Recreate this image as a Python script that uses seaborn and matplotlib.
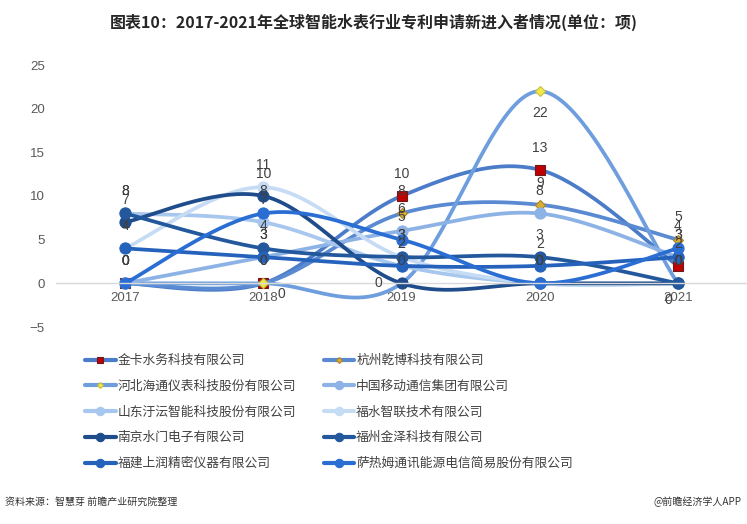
import numpy as np
import pandas as pd
import seaborn as sns
import matplotlib.pyplot as plt
from matplotlib.lines import Line2D

# 数据（单位：项）
years = ["2017", "2018", "2019", "2020", "2021"]
companies = [
    "金卡水务科技有限公司", "杭州乾博科技有限公司",
    "河北海通仪表科技股份有限公司", "中国移动通信集团有限公司",
    "山东汙沄智能科技股份有限公司", "福水智联技术有限公司",
    "南京水门电子有限公司", "福州金泽科技有限公司",
    "福建上润精密仪器有限公司", "萨热姆通讯能源电信简易股份有限公司",
]
jinka = [0, 0, 10, 13, 2]
qianbo = [0, 0, 8, 9, 5]
haitong = [0, 0, 0, 22, 0]
yidong = [0, 3, 6, 8, 3]
shandong = [8, 7, 2, 0, 0]
fushui = [4, 11, 3, 0, 0]
shuimen = [7, 10, 0, 0, 0]
jinze = [8, 4, 3, 3, 0]
shangrun = [4, 3, 2, 2, 3]
sagem = [0, 8, 5, 0, 4]
values = [jinka, qianbo, haitong, yidong, shandong, fushui, shuimen, jinze, shangrun, sagem]

colors = ["#4A7CC9", "#5A8AD2", "#6E9EDD", "#8CB2E6", "#A8C7EE",
          "#C6DBF4", "#1F4C8A", "#24589C", "#2562BC", "#2A6ED4"]
markers = ["s", "D", "D", "o", "o", "o", "o", "o", "o", "o"]
marker_sizes = [7, 5, 5, 8, 8, 8, 8, 8, 8, 8]
marker_faces = ["#C00000", "#D9AE35", "#F1E84C"] + colors[3:]
marker_edges = ["#6E1A1A", "#A8842A", "#C9BE3A"] + colors[3:]

sns.set_theme(style="white")
plt.rcParams["font.family"] = ["Noto Sans CJK SC", "DejaVu Sans"]
plt.rcParams["axes.unicode_minus"] = True


def smooth(xs, ys, n=40):
    # Excel 样式的平滑线（三次贝塞尔）
    pts = np.column_stack([xs, ys]).astype(float)
    out = []
    for i in range(len(pts) - 1):
        p0, p3 = pts[i], pts[i + 1]
        prev = pts[i - 1] if i > 0 else pts[i]
        nxt = pts[i + 2] if i + 2 < len(pts) else pts[i + 1]
        c1 = p0 + (p3 - prev) / 6
        c2 = p3 - (nxt - p0) / 6
        t = np.linspace(0, 1, n)[:, None]
        seg = (1 - t) ** 3 * p0 + 3 * (1 - t) ** 2 * t * c1 + 3 * (1 - t) * t ** 2 * c2 + t ** 3 * p3
        out.append(seg if i == 0 else seg[1:])
    return np.vstack(out)


fig = plt.figure(figsize=(7.47, 5.24), dpi=100)
ax = fig.add_axes([56 / 747, 1 - 327 / 524, (747 - 56) / 747, (327 - 65) / 524])

xpos = np.arange(len(years))
num_font = dict(family=["Liberation Sans", "DejaVu Sans"], fontsize=10, color="#404040")

for k, (name, vals) in enumerate(zip(companies, values)):
    curve = pd.DataFrame(smooth(xpos, vals), columns=["x", "y"])
    sns.lineplot(data=curve, x="x", y="y", sort=False, estimator=None,
                 color=colors[k], linewidth=2.7, ax=ax)
    ax.plot(xpos, vals, ls="none", marker=markers[k], ms=marker_sizes[k],
            mfc=marker_faces[k], mec=marker_edges[k], mew=0.8)

# 数据标签
haitong_offsets = [None, (13, -8), (-17, 0), (0, -16), (-7, -12)]
for k, vals in enumerate(values):
    for i, v in enumerate(vals):
        if k == 2:
            off = haitong_offsets[i]
            if off is None:
                continue
        else:
            off = (0, 16)
        ax.annotate(str(v), (xpos[i], v), xytext=off, textcoords="offset points",
                    ha="center", va="center", **num_font)

ax.set_xlim(-0.5, 4.5)
ax.set_ylim(-5, 25)
ax.set_yticks(range(-5, 26, 5))
ax.set_xticks(xpos)
ax.set_xticklabels(years)
ax.set_xlabel("")
ax.set_ylabel("")
for s in ["top", "right", "left"]:
    ax.spines[s].set_visible(False)
ax.spines["bottom"].set_position(("data", 0))
ax.spines["bottom"].set_color("#D9D9D9")
ax.spines["bottom"].set_linewidth(1)
ax.tick_params(axis="both", length=0, labelsize=9.5, labelcolor="#595959")
ax.tick_params(axis="x", pad=6)
ax.tick_params(axis="y", pad=8)
for lab in ax.get_xticklabels() + ax.get_yticklabels():
    lab.set_family(["Liberation Sans", "DejaVu Sans"])

# 图例（两列，按行排列）
handles = [Line2D([], [], color=colors[k], lw=3, marker=markers[k], ms=marker_sizes[k] - 2,
                  mfc=marker_faces[k], mec=marker_edges[k], mew=0.8) for k in range(10)]
order = [0, 2, 4, 6, 8, 1, 3, 5, 7, 9]
fig.legend([handles[i] for i in order], [companies[i] for i in order],
           ncol=2, loc="upper left", bbox_to_anchor=(85 / 747, 1 - 354 / 524),
           frameon=False, fontsize=9.2, handlelength=2.4, handletextpad=0.15,
           labelspacing=1.0, columnspacing=2.15, borderaxespad=0, borderpad=0,
           labelcolor="#404040")

fig.text(0.5, 1 - 22 / 524, "图表10：2017-2021年全球智能水表行业专利申请新进入者情况(单位：项)",
         ha="center", va="center", fontsize=11.5, fontweight="bold", color="#262626")
fig.text(5 / 747, 1 - 502 / 524, "资料来源：智慧芽 前瞻产业研究院整理",
         ha="left", va="center", fontsize=7.2, color="#333333")
fig.text(742 / 747, 1 - 502 / 524, "@前瞻经济学人APP",
         ha="right", va="center", fontsize=7.2, color="#333333")

fig.savefig("out.png", dpi=100)
